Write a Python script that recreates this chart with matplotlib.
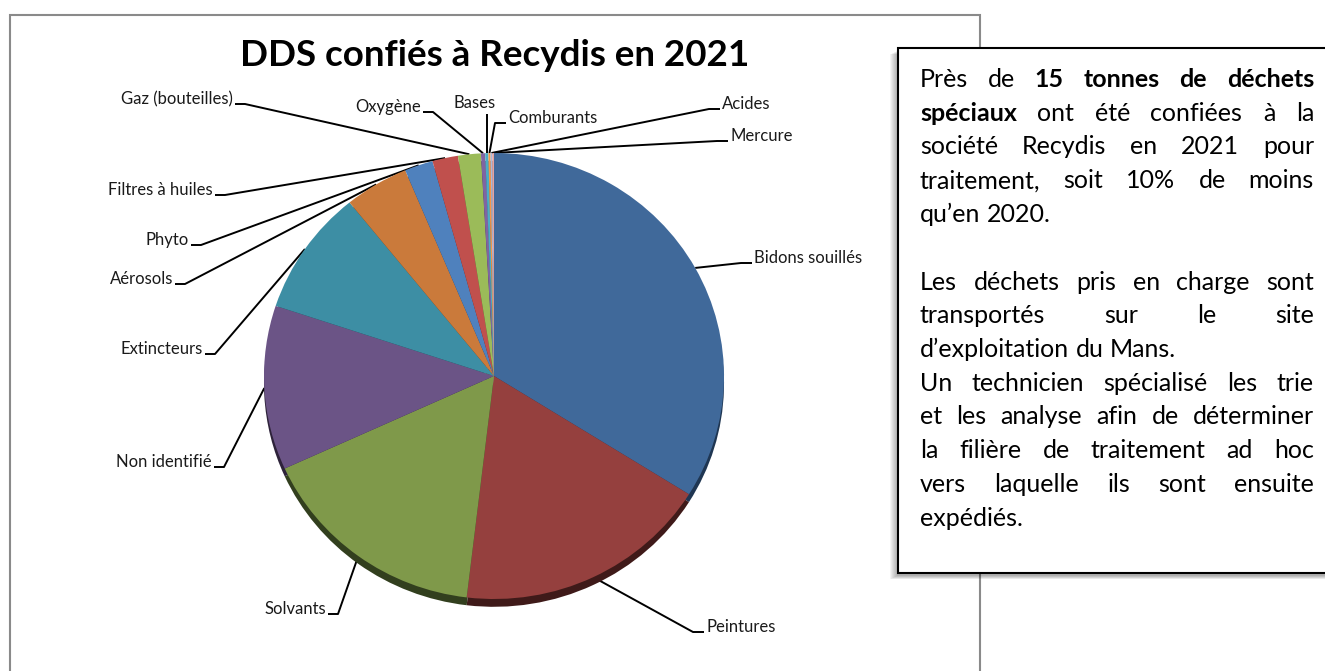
import matplotlib
matplotlib.use("Agg")
import matplotlib.pyplot as plt
import numpy as np
from matplotlib.patches import Rectangle

# --- data -------------------------------------------------------------
categories = ["Bidons souillés", "Peintures", "Solvants", "Non identifié",
              "Extincteurs", "Aérosols", "Phyto", "Filtres à huiles",
              "Gaz (bouteilles)", "Oxygène", "Bases", "Comburants",
              "Acides", "Mercure"]
parts = [33.9, 18.0, 16.3, 11.9, 9.1, 4.5, 2.0, 1.8, 1.6,
         0.3, 0.22, 0.15, 0.12, 0.12]   # % of ~15 t

colors = ["#40699a", "#95403e", "#7f994a", "#6b5486", "#3d8ea4", "#ca7a3b",
          "#4f81bd", "#c0504d", "#9bbb59", "#8064a2", "#4bacc6", "#f79646",
          "#a9b9da", "#e3a3a1"]
shadow_colors = ["#1f3652", "#3f1a19", "#323f1e", "#2e233a", "#1b3e48", "#5a3519",
                 "#23395a", "#5a2423", "#46552a", "#3a2d4a", "#22505c", "#70441f",
                 "#4d5463", "#684948"]

title = "DDS confiés à Recydis en 2021"

body = [
    [("Près", 0), ("de", 0), ("15", 1), ("tonnes", 1), ("de", 1), ("déchets", 1)],
    [("spéciaux", 1), ("ont", 0), ("été", 0), ("confiées", 0), ("à", 0), ("la", 0)],
    "société Recydis en 2021 pour",
    "traitement, soit 10% de moins",
    "qu’en 2020.|",
    None,
    "Les déchets pris en charge sont",
    "transportés sur le site",
    "d’exploitation du Mans.|",
    "Un technicien spécialisé les trie",
    "et les analyse afin de déterminer",
    "la filière de traitement ad hoc",
    "vers laquelle ils sont ensuite",
    "expédiés.|",
]

# --- layout (pixels) ---------------------------------------------------
W, H = 1325, 671
FONT = "Lato"
cx, cy, rx, ry = 494, 376, 230, 223

# label text anchor: x, y(center), ha
label_pos = {
    "Bidons souillés": (754, 258, "left"),
    "Peintures": (706, 627, "left"),
    "Solvants": (326, 609, "right"),
    "Non identifié": (212, 462, "right"),
    "Extincteurs": (203, 349, "right"),
    "Aérosols": (173, 279, "right"),
    "Phyto": (189, 240, "right"),
    "Filtres à huiles": (213, 190, "right"),
    "Gaz (bouteilles)": (233, 99, "right"),
    "Oxygène": (421, 107, "right"),
    "Bases": (475, 103, "center"),
    "Comburants": (508, 118, "left"),
    "Acides": (722, 104, "left"),
    "Mercure": (730, 136, "left"),
}

fig = plt.figure(figsize=(W / 100, H / 100), dpi=100)
ov = fig.add_axes([0, 0, 1, 1])
ov.set_xlim(0, W)
ov.set_ylim(H, 0)
ov.axis("off")

# chart frame
ov.plot([10, 10, 980, 980], [H + 5, 15, 15, H + 5], color="#8a8a8a", lw=1.5,
        solid_joinstyle="miter")

ov.text(cx + 1, 56, title, family=FONT, fontweight="bold", fontsize=26.5,
        ha="center", va="center", color="black")

# pie
pax = fig.add_axes([(cx - rx) / W, (H - cy - ry) / H, 2 * rx / W, 2 * ry / H])
sh, _ = pax.pie(parts, colors=shadow_colors, startangle=90, counterclock=False,
                center=(0, -0.035), wedgeprops=dict(linewidth=0))
wd, _ = pax.pie(parts, colors=colors, startangle=90, counterclock=False,
                wedgeprops=dict(linewidth=0))
for w in sh + wd:
    w.set_clip_on(False)
pax.set_aspect("auto")
pax.set_xlim(-1, 1)
pax.set_ylim(-1, 1)
pax.axis("off")

# labels with leader lines
vals = np.array(parts)
mids = 360 * (np.cumsum(vals) - vals / 2) / vals.sum()
for name, th in zip(categories, mids):
    ax_ = cx + rx * np.sin(np.radians(th))
    ay_ = cy - ry * np.cos(np.radians(th))
    x, y, ha = label_pos[name]
    ov.text(x, y, name, family=FONT, fontsize=12, ha=ha, va="center", color="#1a1a1a")
    if ha == "left":
        pts = [(x - 2, y + 5), (x - 13, y + 5), (ax_, ay_)]
    elif ha == "right":
        pts = [(x + 2, y + 5), (x + 12, y + 5), (ax_, ay_)]
    else:
        pts = [(ax_, y + 11), (ax_, ay_)]
    px, py = zip(*pts)
    ov.plot(px, py, color="black", lw=1.4, solid_capstyle="butt")

# text box with soft shadow
bx0, by0, bx1, by1 = 898, 48, 1335, 573
for k in range(1, 9):
    ov.add_patch(Rectangle((bx0 - k, by0 + 2 + k * 0.5), bx1 - bx0, by1 - by0,
                           facecolor="black", edgecolor="none", alpha=0.045, zorder=3))
ov.add_patch(Rectangle((bx0, by0), bx1 - bx0, by1 - by0, facecolor="white",
                       edgecolor="black", lw=1.5, zorder=4))

renderer = fig.canvas.get_renderer()
tx0, tx1 = 920, 1314
base0, dy = 87, 33.75
bsize = 18


def width_of(t):
    return t.get_window_extent(renderer).width


probe = ov.text(0, 0, "n n", family=FONT, fontsize=bsize)
probe2 = ov.text(0, 0, "nn", family=FONT, fontsize=bsize)
space = width_of(probe) - width_of(probe2)
probe.remove()
probe2.remove()

for i, line in enumerate(body):
    if line is None:
        continue
    justify = True
    if isinstance(line, str):
        if line.endswith("|"):
            justify = False
            line = line[:-1]
        words = [(w, 0) for w in line.split()]
    else:
        words = line
    y = base0 + i * dy
    texts = [ov.text(0, y, w, family=FONT, fontsize=bsize,
                     fontweight="bold" if b else "normal",
                     ha="left", va="baseline", color="black", zorder=5)
             for w, b in words]
    widths = [width_of(t) for t in texts]
    gap = (tx1 - tx0 - sum(widths)) / (len(texts) - 1) if justify else space
    xx = tx0
    for t, w in zip(texts, widths):
        t.set_x(xx)
        xx += w + gap

fig.savefig("out.png", dpi=100)
